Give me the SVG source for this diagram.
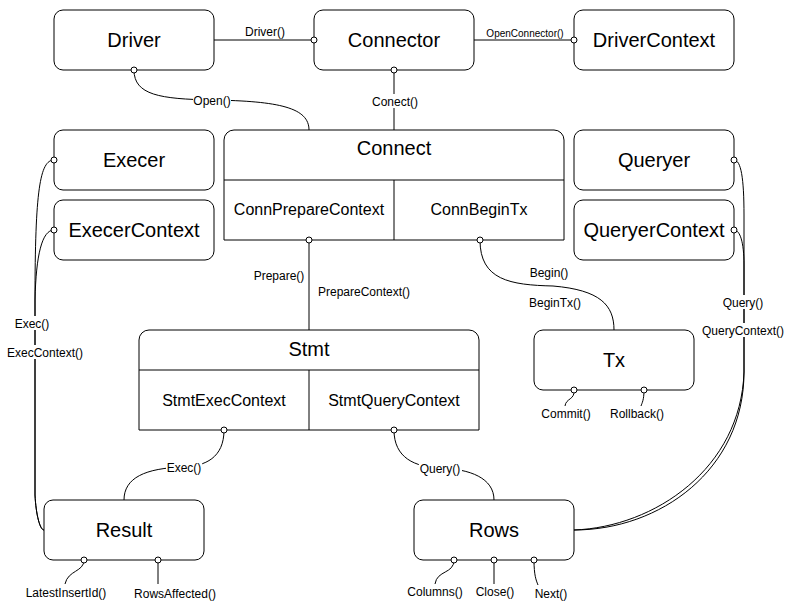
<svg xmlns="http://www.w3.org/2000/svg" width="791" height="611" viewBox="0 0 791 611">
<style>
.box{fill:#fff;stroke:#000;stroke-width:1}
.ln{fill:none;stroke:#000;stroke-width:1}
.dot{fill:#fff;stroke:#000;stroke-width:1}
.bg{fill:#fff;stroke:none}
text{font-family:"Liberation Sans",Arial,Helvetica,sans-serif;fill:#000;text-anchor:middle}
.t20{font-size:20px}
.t16{font-size:16px}
.t12{font-size:12px}
.t10{font-size:10px}
</style>
<rect x="0" y="0" width="791" height="611" fill="#fff"/>

<g id="node-driver"><rect class="box" x="54" y="10" width="160" height="60" rx="9"/><text class="t20" x="134" y="47">Driver</text></g>
<g id="node-connector"><rect class="box" x="314" y="10" width="160" height="60" rx="9"/><text class="t20" x="394" y="47">Connector</text></g>
<g id="node-drivercontext"><rect class="box" x="574" y="10" width="160" height="60" rx="9"/><text class="t20" x="654" y="47">DriverContext</text></g>
<g id="node-execer"><rect class="box" x="54" y="130" width="160" height="60" rx="9"/><text class="t20" x="134" y="167">Execer</text></g>
<g id="node-execercontext"><rect class="box" x="54" y="200" width="160" height="60" rx="9"/><text class="t20" x="134" y="237">ExecerContext</text></g>
<g id="node-queryer"><rect class="box" x="574" y="130" width="160" height="60" rx="9"/><text class="t20" x="654" y="167">Queryer</text></g>
<g id="node-queryercontext"><rect class="box" x="574" y="200" width="160" height="60" rx="9"/><text class="t20" x="654" y="237">QueryerContext</text></g>
<g id="node-connect">
<path class="box" d="M224,140 A10,10 0 0 1 234,130 H554 A10,10 0 0 1 564,140 V240 H224 Z"/>
<line class="ln" x1="224" y1="180" x2="564" y2="180"/>
<line class="ln" x1="394" y1="180" x2="394" y2="240"/>
<text class="t20" x="394" y="155">Connect</text>
<text class="t16" x="309" y="215">ConnPrepareContext</text>
<text class="t16" x="479" y="215">ConnBeginTx</text>
</g>
<g id="node-stmt">
<path class="box" d="M139,340 A10,10 0 0 1 149,330 H469 A10,10 0 0 1 479,340 V430 H139 Z"/>
<line class="ln" x1="139" y1="370" x2="479" y2="370"/>
<line class="ln" x1="309" y1="370" x2="309" y2="430"/>
<text class="t20" x="309" y="356">Stmt</text>
<text class="t16" x="224" y="406">StmtExecContext</text>
<text class="t16" x="394" y="406">StmtQueryContext</text>
</g>
<g id="node-tx"><rect class="box" x="534" y="330" width="160" height="60" rx="9"/><text class="t20" x="614" y="367">Tx</text></g>
<g id="node-result"><rect class="box" x="44" y="500" width="160" height="60" rx="9"/><text class="t20" x="124" y="537">Result</text></g>
<g id="node-rows"><rect class="box" x="414" y="500" width="160" height="60" rx="9"/><text class="t20" x="494" y="537">Rows</text></g>

<g id="connectors">
<line class="ln" x1="214" y1="40" x2="314" y2="40"/>
<line class="ln" x1="474" y1="40" x2="574" y2="40"/>
<path class="ln" d="M134,70 C134,95 160,99 212,100 C280,101 309,108 309,130"/>
<line class="ln" x1="394" y1="70" x2="394" y2="130"/>
<line class="ln" x1="309" y1="240" x2="309" y2="330"/>
<path class="ln" d="M480,240 C480,280 510,285 553,286 C600,290 614,305 614,330"/>
<path class="ln" d="M54,160 C40,160 35,190 35,300 L35,495 C36,515 40,530 44,530"/>
<path class="ln" d="M54,230 C42,230 36,255 35,300 L35,495 C36,515 40,530 44,530"/>
<path class="ln" d="M734,160 C741,160 744,178 744,215 L744,372 C744,470 660,530 574,530"/>
<path class="ln" d="M734,230 C740,230 744,242 744,265 L744,372 C741,468 655,527 574,530"/>
<path class="ln" d="M224,430 C224,458 205,466 184,467 C145,468 124,478 124,500"/>
<path class="ln" d="M394,430 C394,458 415,467 440,468 C470,469 494,478 494,500"/>
<path class="ln" d="M574,390 C575,400 566,398 565,406"/>
<path class="ln" d="M644,390 C644,400 642,403 641,406"/>
<path class="ln" d="M84,560 C84,572 68,570 65,584"/>
<line class="ln" x1="158" y1="560" x2="158" y2="584"/>
<path class="ln" d="M454,560 C454,574 437,570 435,584"/>
<line class="ln" x1="494" y1="560" x2="494" y2="584"/>
<path class="ln" d="M534,560 C534,575 536,580 538,585"/>

<circle class="dot" cx="314" cy="40" r="3"/>
<circle class="dot" cx="574" cy="40" r="3"/>
<circle class="dot" cx="134" cy="70" r="3"/>
<circle class="dot" cx="394" cy="70" r="3"/>
<circle class="dot" cx="309" cy="240" r="3"/>
<circle class="dot" cx="480" cy="240" r="3"/>
<circle class="dot" cx="54" cy="160" r="3"/>
<circle class="dot" cx="54" cy="230" r="3"/>
<circle class="dot" cx="734" cy="160" r="3"/>
<circle class="dot" cx="734" cy="230" r="3"/>
<circle class="dot" cx="224" cy="430" r="3"/>
<circle class="dot" cx="394" cy="430" r="3"/>
<circle class="dot" cx="574" cy="390" r="3"/>
<circle class="dot" cx="644" cy="390" r="3"/>
<circle class="dot" cx="84" cy="560" r="3"/>
<circle class="dot" cx="158" cy="560" r="3"/>
<circle class="dot" cx="454" cy="560" r="3"/>
<circle class="dot" cx="494" cy="560" r="3"/>
<circle class="dot" cx="534" cy="560" r="3"/>

<rect class="bg" x="193" y="93" width="38" height="14"/>
<rect class="bg" x="372" y="94" width="46" height="14"/>
<rect class="bg" x="14" y="316" width="36" height="14"/>
<rect class="bg" x="7" y="345" width="77" height="14"/>
<rect class="bg" x="722" y="295" width="43" height="14"/>
<rect class="bg" x="702" y="323" width="83" height="14"/>
<rect class="bg" x="166" y="461" width="36" height="14"/>
<rect class="bg" x="419" y="461" width="43" height="14"/>

<text class="t12" x="265" y="36">Driver()</text>
<text class="t10" x="525" y="36.5">OpenConnector()</text>
<text class="t12" x="212" y="104.5">Open()</text>
<text class="t12" x="395" y="105.5">Conect()</text>
<text class="t12" x="279" y="280" >Prepare()</text>
<text class="t12" x="364" y="296">PrepareContext()</text>
<text class="t12" x="549" y="277">Begin()</text>
<text class="t12" x="555" y="307">BeginTx()</text>
<text class="t12" x="32" y="327.5">Exec()</text>
<text class="t12" x="45" y="356.5">ExecContext()</text>
<text class="t12" x="743" y="306.5">Query()</text>
<text class="t12" x="743" y="334.5">QueryContext()</text>
<text class="t12" x="184" y="472">Exec()</text>
<text class="t12" x="440" y="473">Query()</text>
<text class="t12" x="566" y="418">Commit()</text>
<text class="t12" x="637" y="418">Rollback()</text>
<text class="t12" x="66" y="597">LatestInsertId()</text>
<text class="t12" x="175" y="598">RowsAffected()</text>
<text class="t12" x="435" y="596">Columns()</text>
<text class="t12" x="495" y="596">Close()</text>
<text class="t12" x="551" y="598">Next()</text>
</g>
</svg>
